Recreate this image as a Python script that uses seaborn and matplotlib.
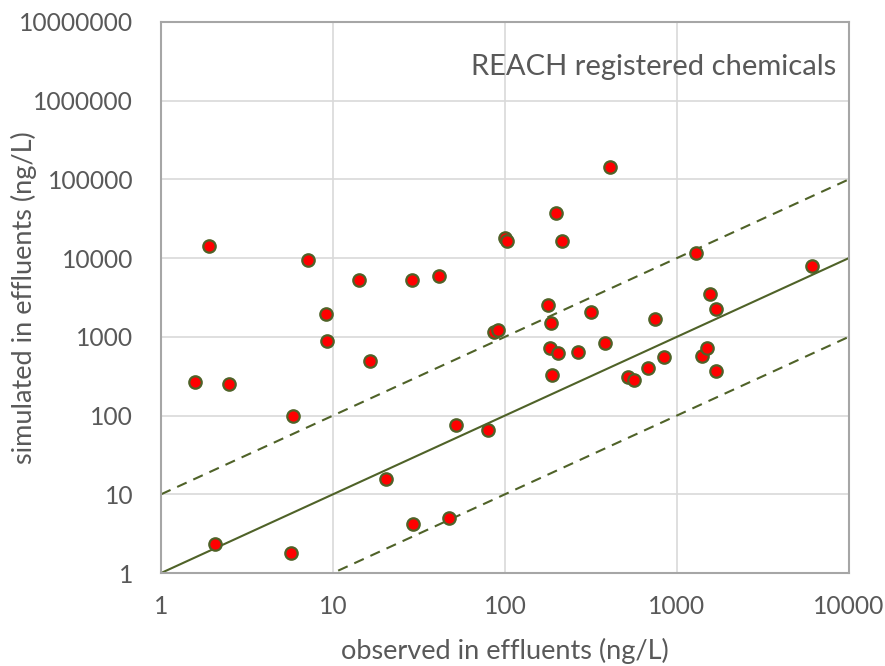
import numpy as np
import pandas as pd
import matplotlib as mpl
mpl.use("Agg")
import matplotlib.pyplot as plt
import seaborn as sns

# observed vs simulated concentrations (ng/L)
observed = [2.06, 5.67, 5.88, 20.4, 29.3, 47.6, 52.2, 80.0,
            1.91, 7.14, 14.2, 28.8, 41.1, 9.05, 9.29, 16.5, 1.58, 2.48, 86.3, 91.5,
            411, 199, 100, 102.6, 215, 1292, 6130, 177, 185, 315, 747, 1570, 1680,
            182, 205, 266, 382, 187, 521, 560, 681, 843, 1393, 1497, 1680]
simulated = [2.36, 1.82, 98, 15.6, 4.19, 4.94, 75.5, 64.7,
             14300, 9480, 5290, 5290, 5880, 1960, 889, 500, 268, 253, 1157, 1227,
             145000, 37000, 17800, 16700, 16700, 11640, 8030, 2548, 1506, 2051, 1671, 3514, 2286,
             717, 619, 650, 847, 330, 311, 281, 404, 551, 579, 725, 366]

# 1:1 line and factor-of-10 band
ref_x = [1, 10000]
ref_factors = [1, 10, 0.1]

x_ticks = [1, 10, 100, 1000, 10000]
y_ticks = [1, 10, 100, 1000, 10000, 100000, 1000000, 10000000]

df = pd.DataFrame({"observed": observed, "simulated": simulated})

sns.set_style("white")
plt.rcParams["font.family"] = ["Lato", "DejaVu Sans"]

text_col = "#595959"
line_col = "#4F6228"
grid_col = "#D9D9D9"

fig = plt.figure(figsize=(8.85, 6.66), dpi=100)
ax = fig.add_axes([0.182, 0.1396, 0.777, 0.8274])

ax.set_xscale("log")
ax.set_yscale("log")
ax.set_xlim(1, 10000)
ax.set_ylim(1, 10000000)

for f in ref_factors:
    ys = [v * f for v in ref_x]
    ax.plot(ref_x, ys, color=line_col, lw=1.5,
            linestyle="-" if f == 1 else (0, (5, 3.5)), zorder=2)

sns.scatterplot(data=df, x="observed", y="simulated", ax=ax,
                color="#FF0000", edgecolor=line_col, linewidth=1.6,
                s=80, zorder=3, legend=False)

ax.set_xticks(x_ticks)
ax.set_xticklabels([str(v) for v in x_ticks])
ax.set_yticks(y_ticks)
ax.set_yticklabels([str(v) for v in y_ticks])
ax.minorticks_off()
ax.tick_params(length=0, labelsize=17.75, labelcolor=text_col)
ax.tick_params(axis="y", pad=20)
ax.tick_params(axis="x", pad=16)

ax.grid(True, color=grid_col, lw=1.2)
ax.set_axisbelow(True)
for sp in ax.spines.values():
    sp.set_color("#A6A6A6")
    sp.set_linewidth(1.5)

ax.set_xlabel("observed in effluents (ng/L)", fontsize=19.5, color=text_col)
ax.set_ylabel("simulated in effluents (ng/L)", fontsize=19.5, color=text_col)
ax.xaxis.set_label_coords(0.5, -0.1416)
ax.xaxis.label.set_va("center")
ax.yaxis.set_label_coords(-0.199, 0.5)
ax.yaxis.label.set_va("center")

ax.text(0.9826, 0.9038, "REACH registered chemicals", transform=ax.transAxes,
        ha="right", va="baseline", fontsize=21, color=text_col)

fig.savefig("out.png", dpi=100)
